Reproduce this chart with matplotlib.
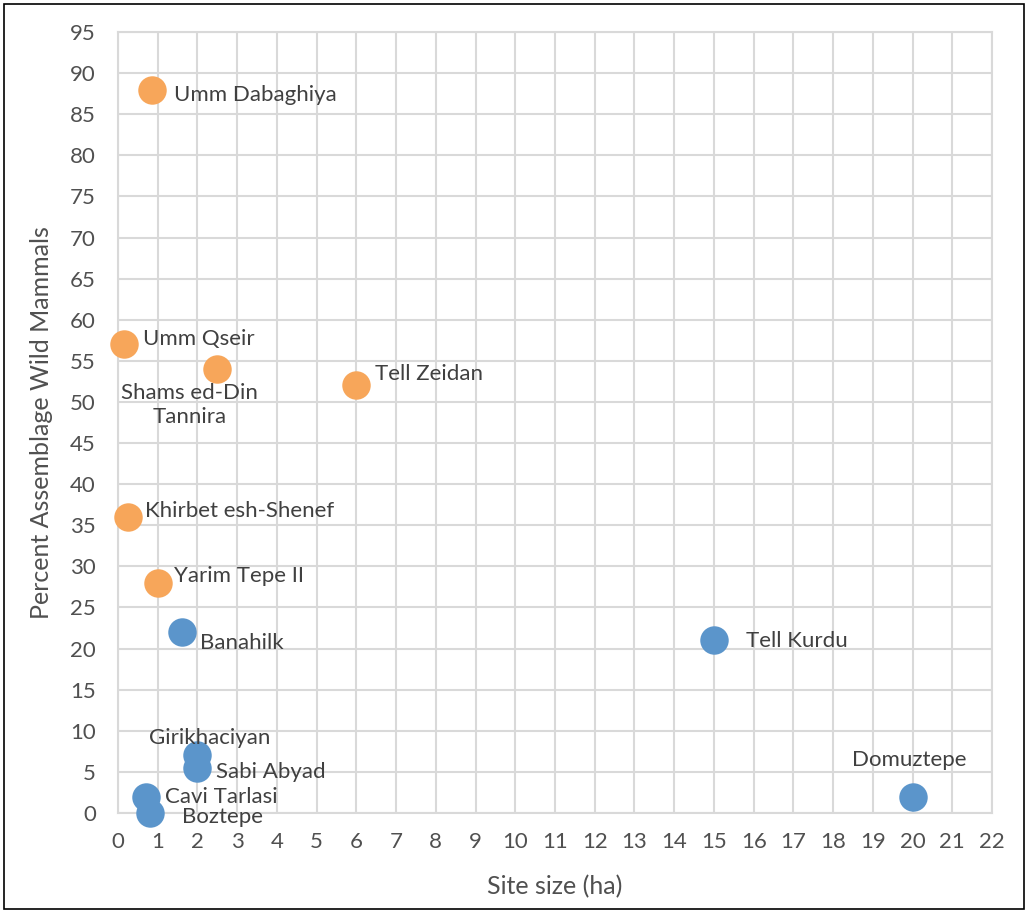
import matplotlib.pyplot as plt
from matplotlib.patches import Rectangle

# orange series
orange_sites = ['Umm Dabaghiya', 'Umm Qseir', 'Shams ed-Din\nTannira', 'Tell Zeidan',
                'Khirbet esh-Shenef', 'Yarim Tepe II']
orange_size = [0.85, 0.15, 2.5, 6.0, 0.25, 1.0]
orange_pct = [88, 57, 54, 52, 36, 28]

# blue series
blue_sites = ['Banahilk', 'Tell Kurdu', 'Girikhaciyan', 'Sabi Abyad',
              'Cavi Tarlasi', 'Boztepe', 'Domuztepe']
blue_size = [1.6, 15.0, 2.0, 2.0, 0.7, 0.8, 20.0]
blue_pct = [22, 21, 7, 5.5, 2, 0, 2]

x_ticks = list(range(0, 23))
y_ticks = list(range(0, 96, 5))

# label placement in pixels: (dx, dy, ha)
label_pos = {
    'Umm Dabaghiya': (22, -5, 'left'),
    'Umm Qseir': (19, 5, 'left'),
    'Shams ed-Din\nTannira': (-28, -36, 'center'),
    'Tell Zeidan': (19, 11, 'left'),
    'Khirbet esh-Shenef': (17, 6, 'left'),
    'Yarim Tepe II': (16, 7, 'left'),
    'Banahilk': (18, -11, 'left'),
    'Tell Kurdu': (32, -1, 'left'),
    'Girikhaciyan': (12, 17, 'center'),
    'Sabi Abyad': (19, -4, 'left'),
    'Cavi Tarlasi': (19, 0, 'left'),
    'Boztepe': (32, -4, 'left'),
    'Domuztepe': (-3, 37, 'center'),
}

plt.rcParams['font.family'] = ['Lato', 'DejaVu Sans']

fig = plt.figure(figsize=(10.28, 9.11), dpi=100)
ax = fig.add_axes([0.1148, 0.1076, 0.8502, 0.8573])

grid_col = '#D9D9D9'
ax.set_xlim(0, 22)
ax.set_ylim(0, 95)
ax.set_xticks(x_ticks)
ax.set_yticks(y_ticks)
ax.grid(True, color=grid_col, linewidth=1.5)
ax.set_axisbelow(True)
for s in ax.spines.values():
    s.set_color(grid_col)
    s.set_linewidth(1.5)
ax.tick_params(length=0, labelsize=16, colors='#505050')
ax.tick_params(axis='y', pad=16)
ax.tick_params(axis='x', pad=14)

ax.scatter(blue_size, blue_pct, s=420, color='#5B95CB', clip_on=False, zorder=3, linewidths=0)
ax.scatter(orange_size, orange_pct, s=420, color='#F7A65A', clip_on=False, zorder=3, linewidths=0)

for names, xs, ys in [(orange_sites, orange_size, orange_pct), (blue_sites, blue_size, blue_pct)]:
    for n, x, y in zip(names, xs, ys):
        dx, dy, ha = label_pos[n]
        ax.annotate(n, (x, y), xytext=(dx, dy), textcoords='offset pixels',
                    ha=ha, va='center', fontsize=16, color='#404040',
                    multialignment='center', linespacing=1.3, zorder=4,
                    annotation_clip=False)

ax.set_xlabel('Site size (ha)', fontsize=18, color='#505050', labelpad=16)
ax.set_ylabel('Percent Assemblage Wild Mammals', fontsize=18, color='#505050', labelpad=12)

fig.patches.append(Rectangle((0.004, 0.002), 0.992, 0.994, transform=fig.transFigure,
                             fill=False, edgecolor='black', linewidth=1.2))

fig.savefig('out.png', dpi=100)
